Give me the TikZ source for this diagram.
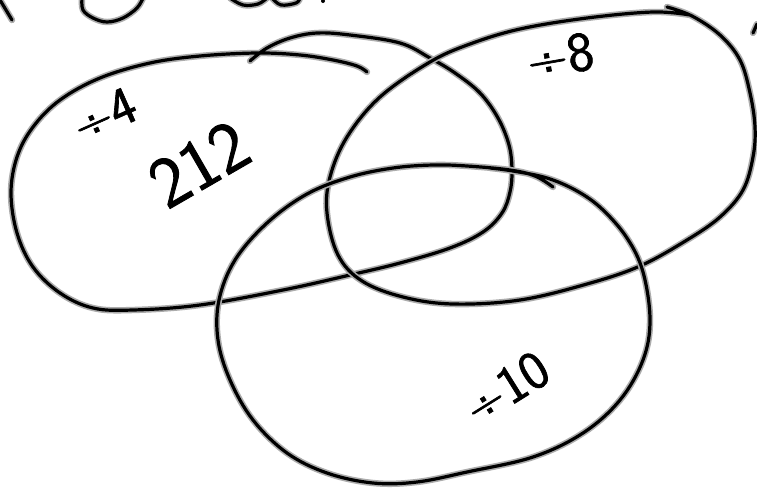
\documentclass[tikz,border=0pt]{standalone}
\usepackage{fontspec}
\newfontfamily\handfont{Latin Modern Sans}[FakeBold=1.2]
\begin{document}
\begin{tikzpicture}[x=1pt,y=-1pt,
  ink/.style={preaction={draw=gray!65, line width=6.4pt, line cap=round, line join=round},
              draw=black, line width=3.2pt, line cap=round, line join=round},
  hand/.style={inner sep=0pt}]
\useasboundingbox (0,0) rectangle (757,488);
\clip (0,0) rectangle (757,488);
\fill[white] (0,0) rectangle (757,488);

% set A : divisible by 4
\draw[ink] plot[smooth, tension=0.6] coordinates {
 (250,61) (267,48) (290,38) (317,33) (350,35) (400,43) (430,58) (455,73) (480,93)
 (498,118) (509,145) (512,170) (510,192) (502,213) (483,232) (450,248) (400,263)
 (350,275) (283,290) (200,305) (133,310) (93,308) (60,293) (33,267) (17,233)
 (11,193) (17,157) (33,127) (60,100) (100,78) (150,63) (200,56) (257,53) (300,55)
 (333,60) (357,66) (367,72)};

% set B : divisible by 8
\draw[ink] plot[smooth, tension=0.6] coordinates {
 (667,7) (692,16) (720,35) (740,60) (750,93) (755,127) (753,157) (743,190)
 (720,217) (687,240) (640,266) (587,284) (520,300) (453,304) (403,297) (362,281)
 (338,255) (327,213) (330,177) (347,137) (380,97) (430,62) (470,44) (520,29)
 (587,18) (653,12) (690,15)};

% set C : divisible by 10
\draw[ink] plot[smooth, tension=0.6] coordinates {
 (553,187) (535,176) (510,170) (467,166) (433,165) (393,168) (350,177) (307,194)
 (267,223) (235,260) (219,300) (218,340) (230,380) (253,420) (287,453) (327,473)
 (373,483) (417,482) (467,472) (533,457) (583,433) (620,400) (643,360) (650,320)
 (643,272) (627,238) (602,209) (577,191) (547,178) (513,171) (490,168)};

% remnants of writing at the top edge
\draw[ink] (0,0) -- (12,20);
\draw[ink] plot[smooth, tension=0.6] coordinates {(82,-2) (83,10) (93,18) (107,22) (123,18) (137,8) (143,-2)};
\draw[ink] plot[smooth, tension=0.6] coordinates {(230,-2) (243,5) (258,4) (267,-2)};
\draw[ink] plot[smooth, tension=0.6] coordinates {(272,-2) (281,5) (296,3) (300,-2)};
\fill (323,1) circle (2pt);
\draw[ink] (753,33) -- (757,24);

% labels
\node[hand, rotate=24, font=\handfont\fontsize{54}{56}\selectfont] (l4) at (104,115) {÷4};
\node[hand, rotate=30, font=\handfont\fontsize{72}{74}\selectfont] (n212) at (199,164) {212};
\node[hand, rotate=10, font=\handfont\fontsize{56}{58}\selectfont] (l8) at (560,56) {÷8};
\node[hand, rotate=32, font=\handfont\fontsize{54}{56}\selectfont] (l10) at (506,388) {÷10};
\end{tikzpicture}
\end{document}
